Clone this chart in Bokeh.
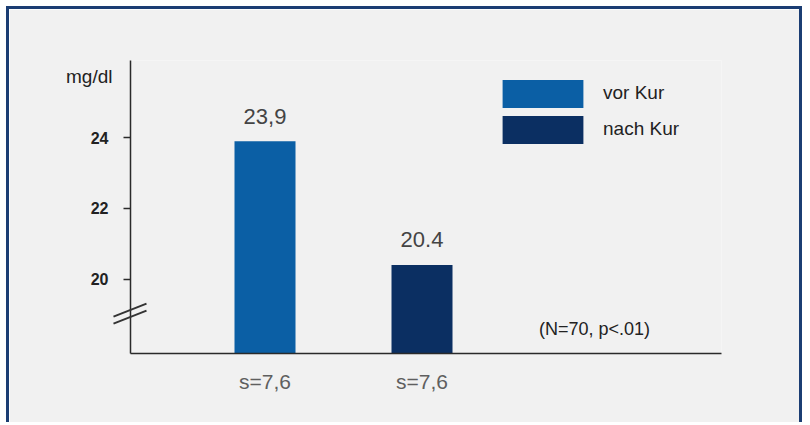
from bokeh.plotting import figure
from bokeh.models import FixedTicker, Label, Legend, LegendItem, ColumnDataSource, LinearAxis
from bokeh.core.properties import value
from bokeh.embed import file_html
from bokeh.resources import INLINE

# ---- data ----
series = ["vor Kur", "nach Kur"]
means = [23.9, 20.4]
mean_labels = ["23,9", "20.4"]
sd_labels = ["s=7,6", "s=7,6"]
positions = [1, 2]          # category index of each bar
y_ticks = [20, 22, 24]
y_unit = "mg/dl"
note = "(N=70, p<.01)"
colors = ["#0b5fa5", "#0b2f62"]

# ---- styling ----
BG = "#f1f1f1"
FONT = "Liberation Sans"
AX = "#2a2a2a"
X_START, X_END = 0.1433, 3.9076
Y_START, Y_END = 17.89, 26.19
FRAME_W, FRAME_H = 591, 293
PX_X = (X_END - X_START) / FRAME_W
PX_Y = (Y_END - Y_START) / FRAME_H
LABEL_GAP = 25 * PX_Y      # gap between bar top and value label
UNIT_Y = 25.75             # height of the unit label on the y axis
BREAK_Y = 19.02            # where the axis break is drawn

p = figure(width=796, height=416,
           x_range=(X_START, X_END), y_range=(Y_START, Y_END),
           output_backend="svg", toolbar_location=None,
           min_border_left=121, min_border_right=84,
           min_border_top=51, min_border_bottom=72,
           background_fill_color=BG, border_fill_color=BG,
           outline_line_color=None)
p.styles = {"border-top": "3px solid #1b3d73",
            "border-left": "3px solid #1b3d73",
            "border-right": "3px solid #1b3d73",
            "margin-left": "6px", "margin-top": "6px"}
p.grid.visible = False

src = ColumnDataSource(dict(x=positions, top=means, color=colors,
                            label=mean_labels, series=series,
                            label_y=[m + LABEL_GAP for m in means]))

bars = p.vbar(x="x", top="top", bottom=Y_START, width=0.3885,
              fill_color="color", line_color=None, source=src)

p.text(x="x", y="label_y", text="label", source=src,
       text_align="center", text_baseline="alphabetic",
       text_font=value(FONT), text_font_size="22px", text_color="#444444")

# x axis
xa = p.xaxis[0]
xa.ticker = FixedTicker(ticks=positions)
xa.major_label_overrides = {pos: lab for pos, lab in zip(positions, sd_labels)}
xa.major_tick_line_color = None
xa.major_tick_out = 0
xa.major_tick_in = 0
xa.minor_tick_line_color = None
xa.axis_line_color = AX
xa.axis_line_width = 1.5
xa.major_label_text_font = FONT
xa.major_label_text_font_size = "21px"
xa.major_label_text_color = "#5f5f5f"
xa.major_label_standoff = 16

# y axis
ya = p.yaxis[0]
ya.ticker = FixedTicker(ticks=y_ticks)
ya.major_tick_out = 7
ya.major_tick_in = 0
ya.major_tick_line_color = AX
ya.major_tick_line_width = 1.5
ya.minor_tick_line_color = None
ya.axis_line_color = AX
ya.axis_line_width = 1.5
ya.major_label_text_font = FONT
ya.major_label_text_font_size = "16px"
ya.major_label_text_font_style = "bold"
ya.major_label_text_color = "#222222"
ya.major_label_standoff = 15

# unit label, drawn as a second (line-less) y axis
unit_axis = LinearAxis(ticker=FixedTicker(ticks=[UNIT_Y]),
                       major_label_overrides={UNIT_Y: y_unit},
                       axis_line_color=None, major_tick_line_color=None,
                       minor_tick_line_color=None,
                       major_tick_out=0, major_tick_in=0,
                       major_label_standoff=-25,
                       major_label_text_font=FONT,
                       major_label_text_font_size="19px",
                       major_label_text_color="#222222")
p.add_layout(unit_axis, "left")

# note
p.add_layout(Label(x=464, y=25, x_units="screen", y_units="screen",
                   text=note, text_align="center", text_baseline="middle",
                   text_font=FONT, text_font_size="18px", text_color="#222222"))

# axis break mark (two slanted strokes across the y axis)
bx0 = [X_START - 17 * PX_X] * 2
bx1 = [X_START + 16 * PX_X] * 2
bc = [BREAK_Y + 3.5 * PX_Y, BREAK_Y - 3.5 * PX_Y]
by0 = [c - 6.5 * PX_Y for c in bc]
by1 = [c + 6.5 * PX_Y for c in bc]
p.segment(x0=bx0, y0=by0, x1=bx1, y1=by1, line_color="#333333",
          line_width=2, level="overlay")

# legend
items = [LegendItem(label=series[i], renderers=[bars], index=i)
         for i in range(len(series))]
legend = Legend(items=items, location=(362, 206.5),
                glyph_width=101, glyph_height=35, spacing=1,
                padding=0, margin=0, border_line_color=None,
                background_fill_alpha=0, label_standoff=10,
                label_text_font=FONT, label_text_font_size="19px",
                label_text_color="#222222")
p.add_layout(legend)

open("out.html", "w").write(file_html(p, INLINE))
